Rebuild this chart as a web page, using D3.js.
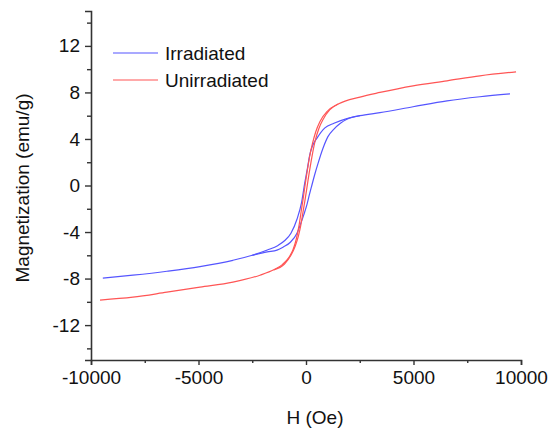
<!DOCTYPE html>
<html>
<head>
<meta charset="utf-8">
<script src="https://cdn.jsdelivr.net/npm/d3@7"></script>
<style>
  html, body { margin: 0; padding: 0; background: #fff; }
  text { font-family: "Liberation Sans", Arial, sans-serif; fill: #111; }
</style>
</head>
<body>
<div id="chart"></div>
<script>
// Hysteresis loops, H in Oe, M in emu/g
const irrDownH = [-9450, -8050, -6470, -4930, -3400, -2500, -1800, -1300, -1000, -700, -420, -200, -60, 60, 170, 300, 520, 880, 1300, 1900, 2510, 3440, 4980, 6560, 8090, 9490];
const irrDownM = [-7.97, -7.71, -7.37, -6.97, -6.43, -6.0, -5.55, -5.15, -4.75, -4.1, -2.9, -1.4, 0.2, 1.4, 2.6, 3.4, 4.1, 4.95, 5.35, 5.75, 6.0, 6.26, 6.77, 7.28, 7.63, 7.88];
const irrUpH   = [-2500, -1800, -1350, -1070, -740, -420, -250, -100, 50, 170, 270, 400, 560, 790, 1020, 1300, 1600, 1900, 2510];
const irrUpM   = [-6.0, -5.7, -5.55, -5.3, -4.9, -4.1, -3.3, -2.5, -1.6, -0.7, 0.0, 0.9, 1.9, 3.2, 4.2, 4.85, 5.35, 5.7, 6.0];

const unDownH  = [-9580, -8050, -6470, -4930, -3400, -2140, -1500, -1100, -800, -600, -450, -330, -230, -130, -30, 70, 170, 300, 450, 650, 1000, 1500, 2510, 3440, 4980, 6560, 8090, 9770];
const unDownM  = [-9.85, -9.6, -9.17, -8.74, -8.31, -7.71, -7.25, -6.8, -6.2, -5.5, -4.6, -3.5, -2.3, -1.1, 0.2, 1.4, 2.5, 3.6, 4.6, 5.5, 6.4, 7.0, 7.6, 8.0, 8.57, 9.0, 9.43, 9.77];
const unUpH    = [-1500, -1000, -700, -500, -360, -250, -150, -50, 50, 150, 250, 350, 450, 600, 800, 1100, 1500];
const unUpM    = [-7.25, -6.75, -6.0, -5.2, -4.4, -3.5, -2.4, -1.3, -0.1, 1.1, 2.2, 3.2, 4.0, 4.9, 5.7, 6.5, 7.0];

const xMajor = [-10000, -5000, 0, 5000, 10000];
const xMinor = [-7500, -2500, 2500, 7500];
const yMajor = [-12, -8, -4, 0, 4, 8, 12];
const yMinor = [-14, -10, -6, -2, 2, 6, 10, 14];

const series = [
  { name: "Irradiated",   color: "#5555ff", branches: [[irrDownH, irrDownM], [irrUpH, irrUpM]] },
  { name: "Unirradiated", color: "#ff5555", branches: [[unDownH, unDownM], [unUpH, unUpM]] }
];

const W = 557, H = 431;
const X0 = 91, X1 = 521, Y0 = 360, Y1 = 11;

const svg = d3.select("#chart").append("svg")
  .attr("width", W).attr("height", H);

const x = d3.scaleLinear().domain([-10000, 10000]).range([X0, X1]);
const y = d3.scaleLinear().domain([-15, 15]).range([Y0, Y1]);

const axisColor = "#333";
const plain = d => String(d);   // keep the ascii hyphen like the original

// x axis
const gx = svg.append("g").attr("transform", `translate(0,${Y0})`);
gx.call(d3.axisBottom(x).tickValues(xMajor).tickSize(5).tickPadding(6).tickFormat(plain));
gx.append("g").call(d3.axisBottom(x).tickValues(xMinor).tickSize(3).tickFormat(""));
gx.selectAll(".domain").attr("stroke", axisColor).attr("stroke-width", 1.6);
gx.selectAll(".tick line").attr("stroke", axisColor).attr("stroke-width", 1.4);
gx.selectAll(".tick text").style("font-size", "19px").attr("fill", "#111");
gx.select("g g .domain").remove();

// y axis
const gy = svg.append("g").attr("transform", `translate(${X0},0)`);
gy.call(d3.axisLeft(y).tickValues(yMajor).tickSize(6).tickPadding(5).tickFormat(plain));
gy.append("g").call(d3.axisLeft(y).tickValues(yMinor).tickSize(4).tickFormat(""));
gy.selectAll(".domain").attr("stroke", axisColor).attr("stroke-width", 1.6);
gy.selectAll(".tick line").attr("stroke", axisColor).attr("stroke-width", 1.4);
gy.selectAll(".tick text").style("font-size", "19px").attr("fill", "#111");
gy.select("g g .domain").remove();

// axis titles
svg.append("text")
  .attr("x", 315).attr("y", 424)
  .attr("text-anchor", "middle")
  .style("font-size", "19px")
  .text("H (Oe)");

svg.append("text")
  .attr("transform", "translate(29,188) rotate(-90)")
  .attr("text-anchor", "middle")
  .style("font-size", "19px")
  .text("Magnetization (emu/g)");

// curves
const line = d3.line()
  .x(d => x(d[0]))
  .y(d => y(d[1]))
  .curve(d3.curveMonotoneX);

const plot = svg.append("g");
series.forEach(s => {
  s.branches.forEach(([hs, ms]) => {
    plot.append("path")
      .datum(hs.map((h, i) => [h, ms[i]]))
      .attr("fill", "none")
      .attr("stroke", s.color)
      .attr("stroke-width", 1.2)
      .attr("d", line);
  });
});

// legend
const legend = svg.append("g").attr("transform", "translate(113,53)");
series.forEach((s, i) => {
  const row = legend.append("g").attr("transform", `translate(0,${i * 27})`);
  row.append("line")
    .attr("x1", 0).attr("x2", 45)
    .attr("stroke", s.color).attr("stroke-width", 1.2);
  row.append("text")
    .attr("x", 52).attr("dy", "0.35em")
    .style("font-size", "19px")
    .text(s.name);
});
</script>
</body>
</html>
